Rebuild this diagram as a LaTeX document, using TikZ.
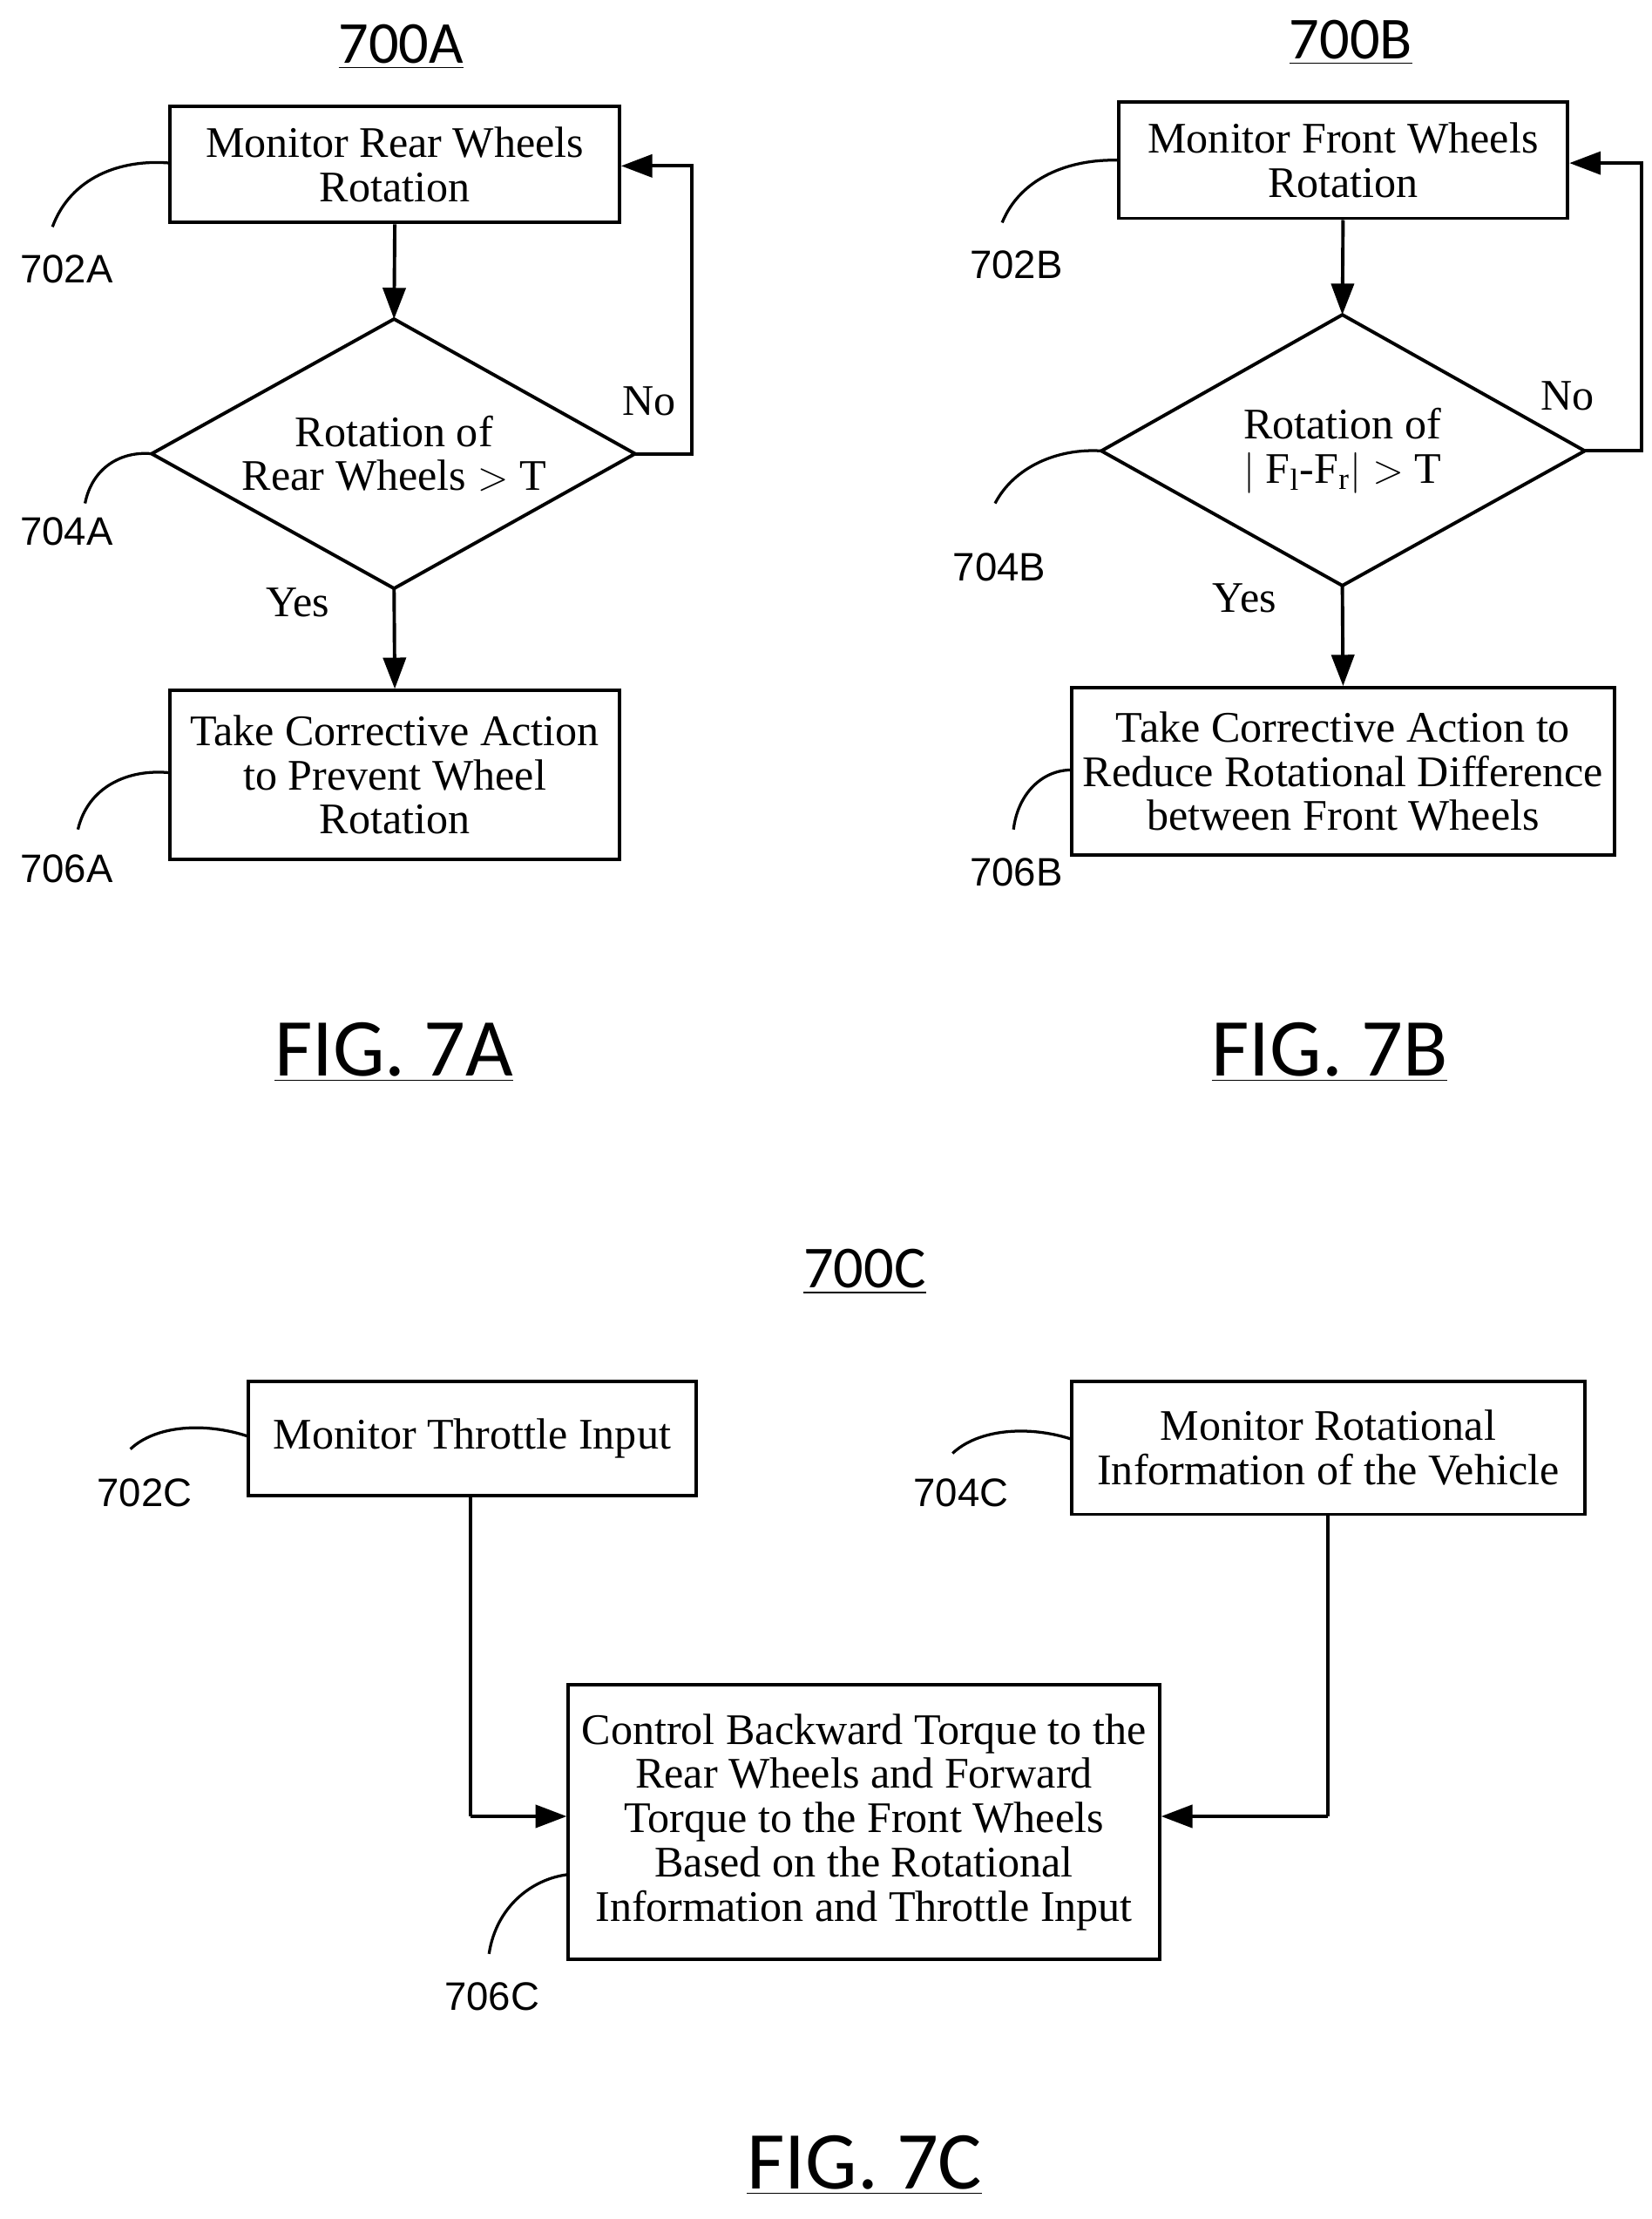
\documentclass[tikz,border=0pt]{standalone}
\usepackage{fontspec}
\setmainfont{Liberation Serif}
\newfontfamily\labfont{Liberation Sans}
\newfontfamily\calfont{Carlito}
\usetikzlibrary{arrows.meta,shapes.geometric}
\begin{document}
\begin{tikzpicture}[x=0.5pt,y=-0.5pt,
 box/.style={draw,line width=1.2pt,inner sep=0pt,align=center,font=\fontsize{15.4}{15.6}\selectfont},
 txt/.style={align=center,font=\fontsize{15.4}{15.6}\selectfont},
 lbl/.style={font=\labfont\fontsize{14}{16}\selectfont},
 ttl/.style={font=\calfont\fontsize{21}{24}\selectfont},
 fig/.style={font=\calfont\fontsize{29}{32}\selectfont},
 arr/.style={line width=1.2pt,-{Triangle[length=11pt,width=8pt]}},
 ln/.style={line width=1.2pt},
 crv/.style={line width=1pt}]
\useasboundingbox (0,0) rectangle (1165,1565);
% ---------- 7A
\node[ttl] (tA) at (283,33) {\underline{700A}};
\node[box,minimum width=158.5pt,minimum height=41pt] (a1) at (278.5,116) {Monitor Rear Wheels\\Rotation};
\draw[ln] (278,225) -- (448,320) -- (278,415) -- (107,320) -- cycle;
\coordinate (dAt) at (278,225); \coordinate (dAr) at (448,320); \coordinate (dAb) at (278,415); \coordinate (dAl) at (107,320);
\node[txt] (dA) at (278,320) {Rotation of\\Rear Wheels $>$ T};
\node[box,minimum width=158.5pt,minimum height=59.5pt] (a3) at (278.5,546.5) {Take Corrective Action\\to Prevent Wheel\\Rotation};
\draw[arr] (a1.south) -- (dAt);
\draw[arr] (dAb) -- (a3.north);
\coordinate (lA) at (488,117);
\draw[arr] (dAr) -| (lA) -- (a1.east|-lA);
\node[txt] (noA) at (458,283) {No};
\node[txt] (yesA) at (210,425) {Yes};
\node[lbl] (l702A) at (47,190) {702A};
\node[lbl] (l704A) at (47,375) {704A};
\node[lbl] (l706A) at (47,613) {706A};
\draw[crv] (37,160) .. controls (50,125) and (85,112) .. (120,115);
\draw[crv] (60,355) .. controls (65,330) and (85,318) .. (dAl);
\draw[crv] (55,585) .. controls (62,555) and (90,542) .. (120,545);
\node[fig] (fA) at (278,742) {\underline{FIG. 7A}};
% ---------- 7B
\node[ttl] (tB) at (953,30) {\underline{700B}};
\node[box,minimum width=158.5pt,minimum height=41pt] (b1) at (947.5,113) {Monitor Front Wheels\\Rotation};
\draw[ln] (947,222) -- (1118,318) -- (947,413) -- (777,318) -- cycle;
\coordinate (dBt) at (947,222); \coordinate (dBr) at (1118,318); \coordinate (dBb) at (947,413); \coordinate (dBl) at (777,318);
\node[txt] (dB) at (947,318) {Rotation of\\$|$ F\textsubscript{l}-F\textsubscript{r}$|$ $>$ T};
\node[box,minimum width=191.5pt,minimum height=59pt] (b3) at (947.5,544) {Take Corrective Action to\\Reduce Rotational Difference\\between Front Wheels};
\draw[arr] (b1.south) -- (dBt);
\draw[arr] (dBb) -- (b3.north);
\coordinate (lB) at (1158,115);
\draw[arr] (dBr) -| (lB) -- (b1.east|-lB);
\node[txt] (noB) at (1106,279) {No};
\node[txt] (yesB) at (878,422) {Yes};
\node[lbl] (l702B) at (717,187) {702B};
\node[lbl] (l704B) at (705,400) {704B};
\node[lbl] (l706B) at (717,615) {706B};
\draw[crv] (707,157) .. controls (720,125) and (755,112) .. (789,113);
\draw[crv] (702,355) .. controls (715,330) and (745,316) .. (dBl);
\draw[crv] (715,585) .. controls (718,560) and (735,543) .. (756,543);
\node[fig] (fB) at (938,742) {\underline{FIG. 7B}};
% ---------- 7C
\node[ttl] (tC) at (610,897) {\underline{700C}};
\node[box,minimum width=158pt,minimum height=40.5pt] (c1) at (333,1014.5) {Monitor Throttle Input};
\node[box,minimum width=181pt,minimum height=47pt] (c2) at (937,1021) {Monitor Rotational\\Information of the Vehicle};
\node[box,minimum width=208.5pt,minimum height=97pt] (c3) at (609.5,1285) {Control Backward Torque to the\\Rear Wheels and Forward\\Torque to the Front Wheels\\Based on the Rotational\\Information and Throttle Input};
\coordinate (jC1) at (332,1281); \coordinate (jC2) at (937,1281);
\draw[ln] (c1.south-|jC1) -- (jC1);
\draw[arr] (jC1) -- (c3.west|-jC1);
\draw[ln] (c2.south) -- (jC2);
\draw[arr] (jC2) -- (c3.east|-jC2);
\node[lbl] (l702C) at (102,1053) {702C};
\node[lbl] (l704C) at (678,1053) {704C};
\node[lbl] (l706C) at (347,1408) {706C};
\draw[crv] (92,1022) .. controls (110,1005) and (145,1003) .. (175,1013);
\draw[crv] (672,1025) .. controls (690,1008) and (725,1005) .. (756,1015);
\draw[crv] (345,1378) .. controls (350,1345) and (375,1325) .. (401,1322);
\node[fig] (fC) at (610,1527) {\underline{FIG. 7C}};
\end{tikzpicture}
\end{document}
